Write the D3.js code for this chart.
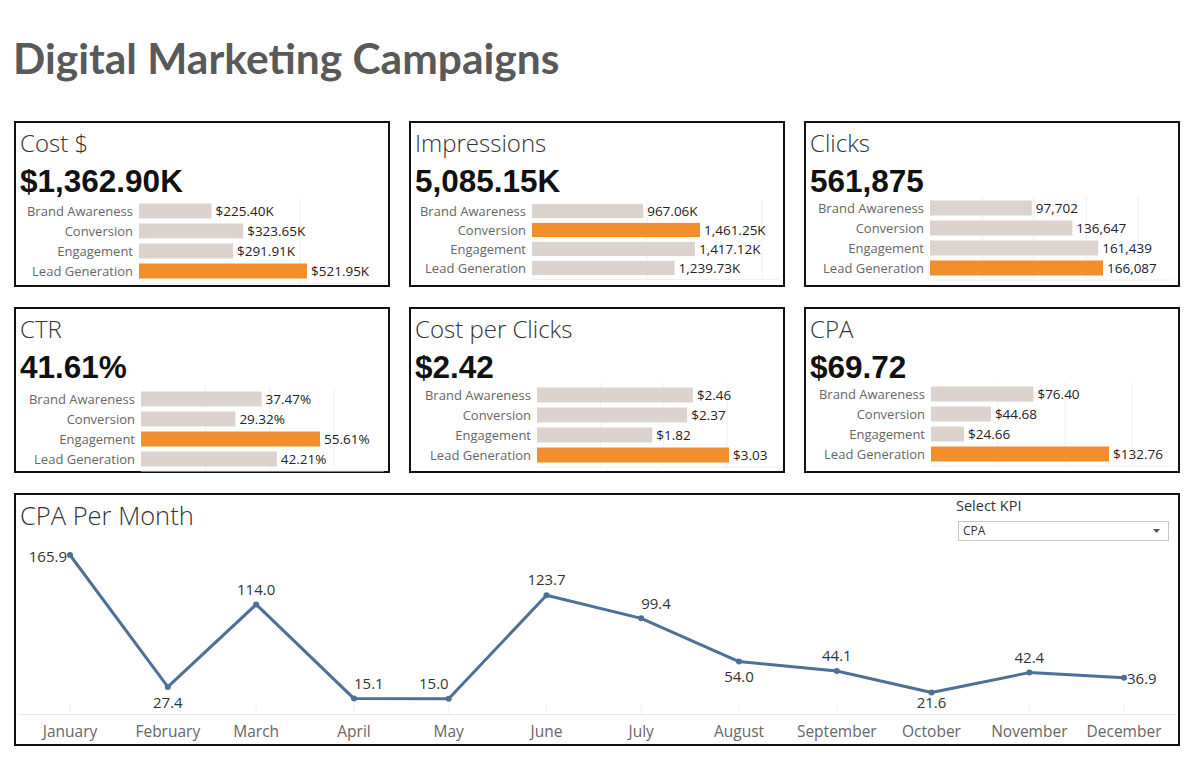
<!DOCTYPE html>
<html>
<head>
<meta charset="utf-8">
<script src="https://cdn.jsdelivr.net/npm/d3@7"></script>
<style>
  body { margin: 0; background: #fff; }
  svg { display: block; }
</style>
</head>
<body>
<div id="dash"></div>
<script>
// campaign types shown in every KPI card
const campaignTypes = ["Brand Awareness", "Conversion", "Engagement", "Lead Generation"];

// KPI values per campaign type (as displayed)
const costK = [225.40, 323.65, 291.91, 521.95];
const impressionsK = [967.06, 1461.25, 1417.12, 1239.73];
const clicks = [97702, 136647, 161439, 166087];
const ctr = [37.47, 29.32, 55.61, 42.21];
const costPerClick = [2.46, 2.37, 1.82, 3.03];
const cpa = [76.40, 44.68, 24.66, 132.76];

// headline totals
const kpiNames = ["Cost $", "Impressions", "Clicks", "CTR", "Cost per Clicks", "CPA"];
const kpiTotals = [1362.90, 5085.15, 561875, 41.61, 2.42, 69.72];

// monthly CPA
const months = ["January", "February", "March", "April", "May", "June", "July",
  "August", "September", "October", "November", "December"];
const cpaPerMonth = [165.9, 27.4, 114.0, 15.1, 15.0, 123.7, 99.4, 54.0, 44.1, 21.6, 42.4, 36.9];

const fmt2 = d3.format(",.2f");
const formats = [
  d => "$" + fmt2(d) + "K",
  d => fmt2(d) + "K",
  d3.format(","),
  d => d3.format(".2f")(d) + "%",
  d => "$" + d3.format(".2f")(d),
  d => "$" + d3.format(".2f")(d)
];
const series = [costK, impressionsK, clicks, ctr, costPerClick, cpa];

// card layout (per card tweaks to follow the Tableau layout)
const cardW = 376, cardH = 166;
const colX = [14, 409, 804], rowY = [121, 307];
const barStart = [125, 123, 126, 127, 128, 127];
const firstRow = [90, 90, 87, 92, 88, 87];
const rowStep = [20, 19, 20, 20, 20, 20];
const maxBarW = [168, 168, 173, 179, 192, 178];
const gridStep = [500, 1000, 50000, 20, 1, 50];

const grey = "#dcd3ce", orange = "#f28e2b";
const titleFont = "Lato, sans-serif";
const labelFont = "'Open Sans', sans-serif";
const bigFont = "'Liberation Sans', Arial, sans-serif";

const width = 1197, height = 781;
const svg = d3.select("#dash").append("svg")
  .attr("width", width)
  .attr("height", height);

svg.append("rect").attr("width", width).attr("height", height).attr("fill", "#fff");

svg.append("text")
  .attr("x", 13)
  .attr("y", 74)
  .style("font-family", titleFont)
  .style("font-size", "42.5px")
  .style("font-weight", "bold")
  .style("fill", "#595959")
  .text("Digital Marketing Campaigns");

series.forEach((vals, i) => {
  const cx = colX[i % 3], cy = rowY[Math.floor(i / 3)];
  const g = svg.append("g").attr("transform", `translate(${cx},${cy})`);

  g.append("rect")
    .attr("x", 1).attr("y", 1)
    .attr("width", cardW - 2).attr("height", cardH - 2)
    .attr("fill", "#fff")
    .attr("stroke", "#111")
    .attr("stroke-width", 2);

  g.append("text")
    .attr("x", 6).attr("y", 31)
    .style("font-family", labelFont)
    .style("font-size", "24px")
    .style("font-weight", 300)
    .style("fill", "#333")
    .text(kpiNames[i]);

  g.append("text")
    .attr("x", 6).attr("y", 71)
    .style("font-family", bigFont)
    .style("font-size", "31.5px")
    .style("font-weight", "bold")
    .style("fill", "#111")
    .text(formats[i](kpiTotals[i]));

  const x = d3.scaleLinear()
    .domain([0, d3.max(vals)])
    .range([barStart[i], barStart[i] + maxBarW[i]]);
  const y = d3.scaleBand()
    .domain(campaignTypes)
    .range([firstRow[i] - rowStep[i] / 2, firstRow[i] + rowStep[i] * 3.5])
    .paddingInner(0.25)
    .paddingOuter(0.125);

  // faint gridlines
  const right = cardW - 6;
  const gridVals = d3.range(gridStep[i], x.invert(right), gridStep[i]);
  g.selectAll(".grid")
    .data(gridVals)
    .join("line")
    .attr("x1", d => x(d)).attr("x2", d => x(d))
    .attr("y1", y.range()[0] - 2).attr("y2", y.range()[1] + 2)
    .attr("stroke", "#f0f0f0");
  g.append("line")
    .attr("x1", barStart[i]).attr("x2", right)
    .attr("y1", y.range()[1] + 2).attr("y2", y.range()[1] + 2)
    .attr("stroke", "#f0f0f0");

  const maxV = d3.max(vals);
  g.selectAll(".bar")
    .data(vals)
    .join("rect")
    .attr("x", x(0))
    .attr("y", (d, j) => y(campaignTypes[j]))
    .attr("width", d => x(d) - x(0))
    .attr("height", y.bandwidth())
    .attr("fill", d => d === maxV ? orange : grey);

  g.selectAll(".cat")
    .data(campaignTypes)
    .join("text")
    .attr("x", barStart[i] - 6)
    .attr("y", d => y(d) + y.bandwidth() / 2)
    .attr("dy", "0.35em")
    .attr("text-anchor", "end")
    .style("font-family", labelFont)
    .style("font-size", "13px")
    .style("fill", "#666")
    .text(d => d);

  g.selectAll(".val")
    .data(vals)
    .join("text")
    .attr("x", d => x(d) + 4)
    .attr("y", (d, j) => y(campaignTypes[j]) + y.bandwidth() / 2)
    .attr("dy", "0.35em")
    .style("font-family", labelFont)
    .style("font-size", "13.5px")
    .style("fill", "#222")
    .text(formats[i]);
});

// CPA per month panel
const panel = svg.append("g").attr("transform", "translate(14,493)");
panel.append("rect")
  .attr("x", 1).attr("y", 1)
  .attr("width", 1164).attr("height", 251)
  .attr("fill", "#fff")
  .attr("stroke", "#111")
  .attr("stroke-width", 2);

panel.append("text")
  .attr("x", 6).attr("y", 32)
  .style("font-family", labelFont)
  .style("font-size", "25.5px")
  .style("font-weight", 300)
  .style("fill", "#333")
  .text("CPA Per Month");

// Select KPI filter
panel.append("text")
  .attr("x", 942).attr("y", 18)
  .style("font-family", labelFont)
  .style("font-size", "14.5px")
  .style("fill", "#333")
  .text("Select KPI");
panel.append("rect")
  .attr("x", 944.5).attr("y", 28.5)
  .attr("width", 210).attr("height", 19)
  .attr("fill", "#fff")
  .attr("stroke", "#c8c8c8");
panel.append("text")
  .attr("x", 949).attr("y", 42)
  .style("font-family", labelFont)
  .style("font-size", "12px")
  .style("fill", "#333")
  .text("CPA");
panel.append("path")
  .attr("d", "M1139,36 L1146,36 L1142.5,40 Z")
  .attr("fill", "#555");

const dates = months.map((m, i) => new Date(2021, i, 1));
const xT = d3.scaleTime()
  .domain([dates[0], dates[11]])
  .range([70, 1124]);
const yL = d3.scaleLinear()
  .domain([0, d3.max(cpaPerMonth)])
  .range([713, 555]);

const chart = svg.append("g");
chart.append("line")
  .attr("x1", 18).attr("x2", 1176)
  .attr("y1", 714.5).attr("y2", 714.5)
  .attr("stroke", "#e6e6e6");
chart.selectAll(".tick")
  .data(dates)
  .join("line")
  .attr("x1", d => xT(d)).attr("x2", d => xT(d))
  .attr("y1", 705).attr("y2", 714)
  .attr("stroke", "#eeeeee");
chart.selectAll(".mlabel")
  .data(months)
  .join("text")
  .attr("x", (d, i) => xT(dates[i]))
  .attr("y", 732)
  .attr("dy", "0.35em")
  .attr("text-anchor", "middle")
  .style("font-family", labelFont)
  .style("font-size", "15.5px")
  .style("fill", "#666")
  .text(d => d);

const line = d3.line()
  .x((d, i) => xT(dates[i]))
  .y(d => yL(d));
chart.append("path")
  .datum(cpaPerMonth)
  .attr("d", line)
  .attr("fill", "none")
  .attr("stroke", "#4e6f96")
  .attr("stroke-width", 3)
  .attr("stroke-linejoin", "round");
chart.selectAll(".pt")
  .data(cpaPerMonth)
  .join("circle")
  .attr("cx", (d, i) => xT(dates[i]))
  .attr("cy", d => yL(d))
  .attr("r", 3)
  .attr("fill", "#4e6f96");

// label placement as Tableau put them
const lblDx = [-3, 0, 0, 0, 0, 0, 0, 0, 0, 0, 0, 3];
const lblDy = [2, 16, -15, -15, -15, -15, -15, 15, -15, 10, -15, 1];
const lblAnchor = ["end", "middle", "middle", "start", "end", "middle", "start", "middle", "middle", "middle", "middle", "start"];
chart.selectAll(".plabel")
  .data(cpaPerMonth)
  .join("text")
  .attr("x", (d, i) => xT(dates[i]) + lblDx[i])
  .attr("y", (d, i) => yL(d) + lblDy[i])
  .attr("dy", "0.35em")
  .attr("text-anchor", (d, i) => lblAnchor[i])
  .style("font-family", labelFont)
  .style("font-size", "15px")
  .style("fill", "#333")
  .text(d => d3.format(".1f")(d));
</script>
</body>
</html>
